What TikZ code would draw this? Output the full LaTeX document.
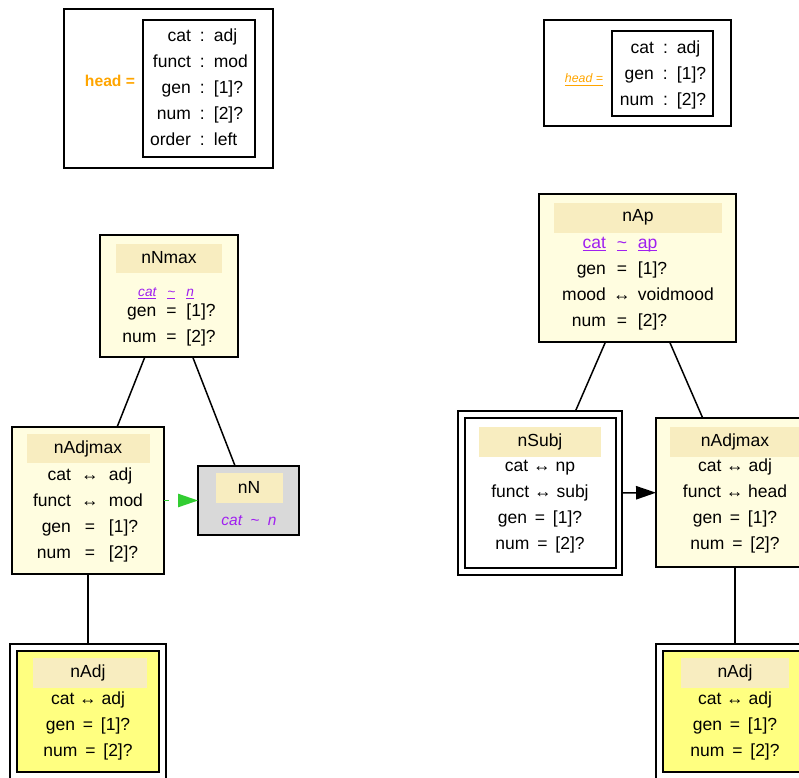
\documentclass[tikz,border=0pt]{standalone}
\usepackage{fontspec}
\setmainfont{Liberation Sans}
\usetikzlibrary{arrows.meta,positioning,fit}
\definecolor{cream}{HTML}{FFFDE0}
\definecolor{bandTan}{HTML}{F8EDC0}
\definecolor{leafYellow}{HTML}{FFFF80}
\definecolor{lexGray}{HTML}{D9D9D9}
\definecolor{featPurple}{HTML}{A020F0}
\definecolor{headOrange}{HTML}{FFA500}
\definecolor{sisterGreen}{HTML}{32CD32}
\newcommand{\midcell}[2]{\makebox[#1][c]{#2}}
\newcommand{\eqgap}{\hspace{0.45em}}
\newcommand{\uln}[1]{\underline{\smash{#1}}\vphantom{#1}}
\newcommand{\catf}[1]{{\fontsize{8.2}{10}\selectfont\itshape\color{featPurple}\uln{#1}}}
\newcommand{\apf}[1]{{\color{featPurple}\uln{#1}}}

\begin{document}
\begin{tikzpicture}[x=0.6pt, y=-0.6pt,
    every node/.style={font=\fontsize{10.5}{15.6}\selectfont, inner sep=0pt, outer sep=0pt},
    recbox/.style={draw, line width=0.9pt},
    band/.style={fill=bandTan},
    txt/.style={anchor=base},
    branch/.style={line width=0.9pt},
    link/.style={line width=0.9pt, -{Triangle[length=12pt, width=8pt]}}]
  \useasboundingbox (0,0) rectangle (799,777);
  \clip (0,0) rectangle (799,777);

  \node[recbox, fit={(64,9) (273,168)}] (headL) {};
  \node[recbox, fit={(143,20) (255,157)}] (headLrec) {};
  \node[txt, font=\fontsize{9.4}{11}\selectfont\bfseries, text=headOrange] (headLlab) at (110,87) {head =};
  \node[txt] (headLfeat) at (199,41.5) {\begin{tabular}[t]{@{}r@{}c@{}l@{}}
      cat & \midcell{13.8pt}{:} & adj\\
      funct & \midcell{13.8pt}{:} & mod\\
      gen & \midcell{13.8pt}{:} & [1]?\\
      num & \midcell{13.8pt}{:} & [2]?\\
      order & \midcell{13.8pt}{:} & left
    \end{tabular}};

  \node[recbox, fit={(544,20) (731,126)}] (headR) {};
  \node[recbox, fit={(612,31) (713,116)}] (headRrec) {};
  \node[txt, font=\fontsize{7.4}{9}\selectfont\itshape, text=headOrange] (headRlab) at (584,83) {\uln{head =}};
  \node[txt] (headRfeat) at (663,53.5) {\begin{tabular}[t]{@{}r@{}c@{}l@{}}
      cat & \midcell{13.8pt}{:} & adj\\
      gen & \midcell{13.8pt}{:} & [1]?\\
      num & \midcell{13.8pt}{:} & [2]?
    \end{tabular}};

  \node[recbox, fill=cream, fit={(100,235) (238,357)}] (nNmax) {};
  \node[band, fit={(116,244) (222,273)}] (nNmaxT) {};
  \node[txt] (nNmaxL) at (169,263) {nNmax};
  \node[txt] (nNmaxF) at (169,296) {\begin{tabular}[t]{@{}r@{}c@{}l@{}}
      \catf{cat} & \midcell{18pt}{\catf{\textasciitilde}} & \catf{n}\\[-3.3pt]
      gen & \midcell{18pt}{=} & [1]?\\
      num & \midcell{18pt}{=} & [2]?
    \end{tabular}};

  \node[recbox, fill=cream, fit={(539,194) (736,342)}] (nAp) {};
  \node[band, fit={(554,203) (722,233)}] (nApT) {};
  \node[txt] (nApL) at (638,222) {nAp};
  \node[txt] (nApF) at (638,248) {\begin{tabular}[t]{@{}r@{}c@{}l@{}}
      \apf{cat} & \midcell{19.2pt}{\apf{\textasciitilde}} & \apf{ap}\\
      gen & \midcell{19.2pt}{=} & [1]?\\
      mood & \midcell{19.2pt}{↔} & voidmood\\
      num & \midcell{19.2pt}{=} & [2]?
    \end{tabular}};

  \node[recbox, fill=cream, fit={(12,427) (164,574)}] (nAdjmaxL) {};
  \node[band, fit={(27,434) (150,463)}] (nAdjmaxLT) {};
  \node[txt] (nAdjmaxLL) at (88,453) {nAdjmax};
  \node[txt] (nAdjmaxLF) at (88,480) {\begin{tabular}[t]{@{}r@{}c@{}l@{}}
      cat & \midcell{22.8pt}{↔} & adj\\
      funct & \midcell{22.8pt}{↔} & mod\\
      gen & \midcell{22.8pt}{=} & [1]?\\
      num & \midcell{22.8pt}{=} & [2]?
    \end{tabular}};

  \node[recbox, fill=lexGray, fit={(198,466) (299,535)}] (nN) {};
  \node[band, fit={(216,473) (283,503)}] (nNT) {};
  \node[txt] (nNL) at (249,493) {nN};
  \node[txt, font=\fontsize{9.3}{11}\selectfont\itshape, text=featPurple] (nNF) at (249,525) {cat\hspace{5pt}\textasciitilde\hspace{5pt}n};

  \node[recbox, fill=white, fit={(10,644) (166,782)}] (nAdjL) {};
  \node[recbox, fill=leafYellow, fit={(17,651) (159,772)}] (nAdjLin) {};
  \node[band, fit={(33,658) (147,688)}] (nAdjLT) {};
  \node[txt] (nAdjLL) at (88,677) {nAdj};
  \node[txt] (nAdjLF) at (88,704) {\begin{tabular}[t]{@{}c@{}}
      cat ↔ adj\\
      gen\eqgap=\eqgap[1]?\\
      num\eqgap=\eqgap[2]?
    \end{tabular}};

  \node[recbox, fill=white, fit={(458,411) (622,575)}] (nSubj) {};
  \node[recbox, fit={(465,418) (616,568)}] (nSubjin) {};
  \node[band, fit={(479,427) (601,457)}] (nSubjT) {};
  \node[txt] (nSubjL) at (540,446) {nSubj};
  \node[txt] (nSubjF) at (540,471) {\begin{tabular}[t]{@{}c@{}}
      cat ↔ np\\
      funct ↔ subj\\
      gen\eqgap=\eqgap[1]?\\
      num\eqgap=\eqgap[2]?
    \end{tabular}};

  \node[recbox, fill=cream, fit={(656,418) (814,567)}] (nAdjmaxR) {};
  \node[band, fit={(670,427) (800,457)}] (nAdjmaxRT) {};
  \node[txt] (nAdjmaxRL) at (735,446) {nAdjmax};
  \node[txt] (nAdjmaxRF) at (735,471) {\begin{tabular}[t]{@{}c@{}}
      cat ↔ adj\\
      funct ↔ head\\
      gen\eqgap=\eqgap[1]?\\
      num\eqgap=\eqgap[2]?
    \end{tabular}};

  \node[recbox, fill=white, fit={(656,644) (814,782)}] (nAdjR) {};
  \node[recbox, fill=leafYellow, fit={(663,651) (807,772)}] (nAdjRin) {};
  \node[band, fit={(681,658) (789,688)}] (nAdjRT) {};
  \node[txt] (nAdjRL) at (735,677) {nAdj};
  \node[txt] (nAdjRF) at (735,704) {\begin{tabular}[t]{@{}c@{}}
      cat ↔ adj\\
      gen\eqgap=\eqgap[1]?\\
      num\eqgap=\eqgap[2]?
    \end{tabular}};

  \draw[branch] (nNmax) -- (nAdjmaxL);
  \draw[branch] (nNmax) -- (nN);
  \draw[branch] (nAdjmaxL) -- (nAdjL);
  \draw[link, sisterGreen, dash pattern=on 3pt off 6pt] (nAdjmaxL) -- (nN);
  \draw[branch] (nAp) -- (nSubj);
  \draw[branch] (nAp) -- (nAdjmaxR);
  \draw[branch] (nAdjmaxR) -- (nAdjR);
  \draw[link] (nSubj) -- (nAdjmaxR);
\end{tikzpicture}
\end{document}
